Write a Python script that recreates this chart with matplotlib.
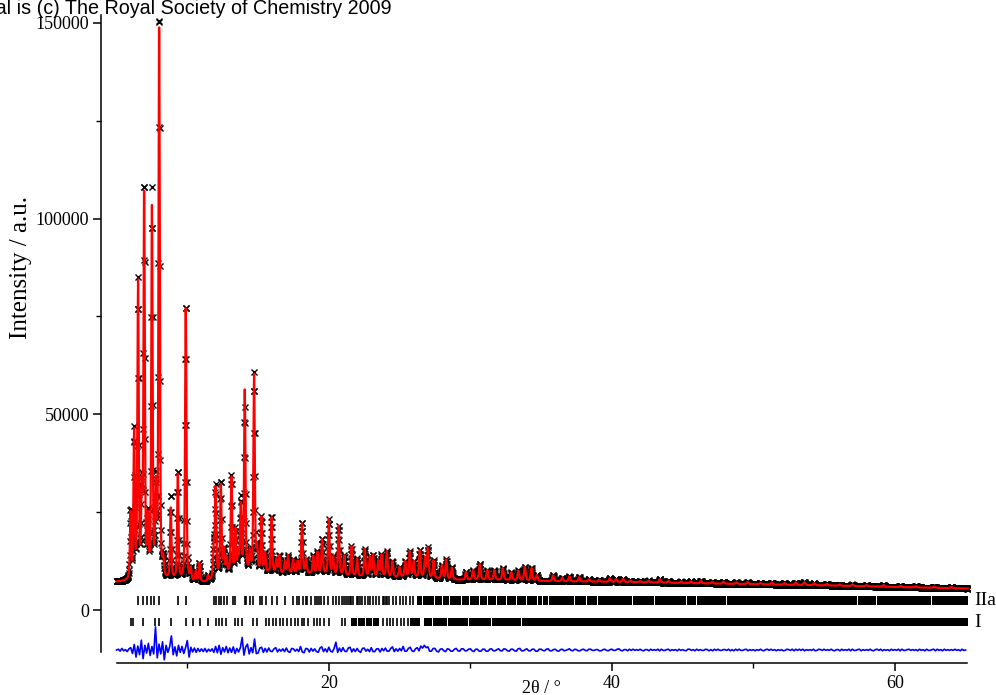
import numpy as np
import matplotlib.pyplot as plt
from matplotlib.ticker import FixedLocator, MultipleLocator

# --- background knots (2theta, counts) ---
bg_2theta = [5.0, 7.0, 9.0, 10.5, 11.5, 12.5, 15.0, 18.0, 20.0, 22.0, 26.0,
             29.0, 32.0, 35.0, 40.0, 45.0, 50.0, 55.0, 60.0, 65.2]
bg_counts = [7100, 7300, 7400, 7000, 7100, 8800, 9200, 9300, 9000, 8500, 8300,
             7700, 7700, 7400, 7200, 6900, 6600, 6300, 5900, 5500]

# --- reflections: position, calculated height, observed height (above background) ---
peak_pos = [5.99, 6.24, 6.52, 6.78, 6.95, 7.21, 7.50, 7.78, 8.01, 8.30,
            8.83, 9.33, 9.89, 10.25, 10.60, 10.85, 11.47, 11.87, 12.00, 12.37,
            12.58, 12.77, 13.12, 13.40, 13.60, 13.78, 14.06, 14.42, 14.72, 14.93,
            15.24, 15.50, 15.95, 16.30, 16.50, 16.90, 17.12, 17.48, 17.80, 18.11,
            18.40, 18.90, 19.20, 19.53, 20.00, 20.30, 20.70, 21.10, 21.60, 22.00,
            22.54, 22.90, 23.13, 23.50, 23.72, 24.10, 24.50, 25.00, 25.40, 25.72,
            26.00, 26.43, 26.80, 27.00, 27.40, 28.00, 28.30, 28.70, 29.70, 30.20,
            30.67, 31.20, 31.70, 32.30, 32.90, 33.40, 33.85, 34.33, 34.70, 35.85,
            36.50, 37.00, 37.70, 38.40, 39.10, 39.86, 40.30, 40.80, 41.30, 42.00,
            42.60, 43.40, 44.00, 44.90, 45.60, 46.30, 47.10, 47.90, 48.80, 49.60,
            50.50, 51.30, 52.20, 53.00, 53.60, 54.30, 55.20, 56.10, 57.00, 58.00,
            59.20, 60.40, 61.50, 62.80, 64.00]
calc_height = [17000, 37000, 75000, 20000, 100000, 14000, 94000, 21000, 144000, 4000,
               18500, 27500, 71500, 3000, 2500, 4800, 1500, 8000, 22500, 23500,
               6000, 4000, 24500, 11000, 5000, 17000, 46500, 5000, 50500, 6000,
               14000, 5000, 14500, 3500, 4500, 3000, 4500, 3500, 3000, 13000,
               3500, 4500, 5500, 9000, 14000, 4500, 12500, 5000, 7500, 4500,
               7000, 5000, 5500, 4000, 5500, 6500, 4000, 2500, 4000, 6500,
               4000, 7000, 5000, 7500, 4500, 3500, 5000, 3000, 2000, 2500,
               4000, 2500, 2500, 3000, 2000, 2500, 3500, 3200, 1500, 1500,
               900, 1300, 1100, 600, 500, 900, 700, 800, 400, 300,
               500, 900, 500, 400, 500, 600, 400, 500, 400, 500,
               400, 500, 400, 600, 700, 500, 400, 300, 400, 300,
               400, 300, 300, 300, 300]
obs_height = [17500, 37500, 75500, 21000, 101000, 14500, 98500, 22000, 145500, 4000,
              21500, 28000, 71500, 3000, 2500, 4800, 1500, 8000, 23000, 24000,
              6000, 4000, 25000, 11000, 5000, 19000, 42000, 5000, 51000, 6000,
              14000, 5000, 14500, 3500, 4500, 3000, 4500, 3500, 3000, 13000,
              3500, 4500, 5500, 9000, 14000, 4500, 12500, 5000, 7500, 4500,
              7000, 5000, 5500, 4000, 5500, 6500, 4000, 2500, 4000, 6500,
              4000, 7000, 5000, 7500, 4500, 3500, 5000, 3000, 2000, 2500,
              4000, 2500, 2500, 3000, 2000, 2500, 3500, 3200, 1500, 1500,
              900, 1300, 1100, 600, 500, 900, 700, 800, 400, 300,
              500, 900, 500, 400, 500, 600, 400, 500, 400, 500,
              400, 500, 400, 600, 700, 500, 400, 300, 400, 300,
              400, 300, 300, 300, 300]

# --- difference curve (obs - calc), hundreds of counts, every 0.125 deg from 5 to 65 ---
diff_hundreds = [
    0, 2, -3, 4, -2, 1, -4, 3,          # 5
    6, -9, 14, -18, 10, -12, 25, -22,   # 6
    12, -8, 17, -14, 9, -10, 59, -20,   # 7
    15, -10, 21, -25, 12, -6, 8, 36,    # 8
    -12, 8, -15, 12, -6, 9, -9, 6,      # 9
    24, -18, 7, -5, 5, -6, 4, -4,       # 10
    3, -4, 4, -5, 2, -3, 3, -6,         # 11
    9, -7, 12, -11, 6, -5, 9, -7,       # 12
    5, -6, 8, -9, 4, -5, 6, 32,         # 13
    -13, 8, 15, -10, 6, -7, 28, -9,     # 14
    -8, 5, 7, -6, 4, -5, 5, -3,         # 15
    -4, 3, 6, -5, 2, -3, 3, -4,         # 16
    5, -4, -6, 4, 3, -3, 2, -4,         # 17
    9, -5, -7, 4, 3, -5, 4, -3,         # 18
    3, -4, -6, 5, 8, -4, 3, -5,         # 19
    7, -3, -5, 4, 20, -6, 5, -4,        # 20
    6, -3, -4, 5, 7, -5, 3, -4,         # 21
    4, -3, -6, 4, 5, -3, 2, -4,         # 22
    6, -4, -4, 3, 3, -5, 4, -2,         # 23
    5, -3, -3, 4, 8, -4, 3, -3,         # 24
    4, -2, 9, -3, -3, 4, 7, -2,         # 25
    -4, 3, 6, -2, 10, 5, 12, 6,         # 26
    8, -3, -3, 4, 4, -3, -5, 2,         # 27
    3, -2, -4, 3, 2, -3, -3, 2,         # 28
    4, -2, -3, 3, 3, -2, -2, 2,         # 29
    3, -2, -4, 2, 2, -3, -3, 2,         # 30
    2, -3, -3, 2, 3, -2, -2, 1,         # 31
    3, -2, -2, 3, 2, -2, -3, 2,         # 32
    2, -2, -3, 3, 4, -2, -2, 1,         # 33
    3, -2, -2, 2, 2, -3, -3, 2,         # 34
    2, -1, -2, 2, 3, -2, -2, 1,         # 35
    2, -2, -3, 1, 2, -2, -1, 1,         # 36
    3, -1, -2, 2, 1, -2, -2, 1,         # 37
    2, -1, -2, 2, 2, -1, -1, 1,         # 38
    1, -2, -2, 1, 2, -1, -2, 1,         # 39
    2, -1, -1, 2, 3, -1, -2, 1,         # 40
    1, -2, 2, -1, 2, -1, 1, -1,         # 41
    2, -1, -2, 1, 1, -2, 2, -1,         # 42
    1, -1, 2, -2, 2, -1, -1, 1,         # 43
    2, -2, 1, -1, 1, -2, 2, -1,         # 44
    1, -1, -2, 2, 2, -1, 1, -2,         # 45
    2, -1, 1, -1, -1, 2, 1, -2,         # 46
    1, -2, 2, -1, 2, -1, -1, 1,         # 47
    1, -1, 2, -2, 1, -2, 2, -1,         # 48
    2, -1, -1, 1, 2, -2, 1, -1,         # 49
    1, -2, 1, -1, 2, -1, -2, 1,         # 50
    2, -1, 2, -1, 1, -2, 1, -1,         # 51
    1, -2, -1, 2, 1, -1, 2, -2,         # 52
    2, -1, 2, -1, 2, -2, 1, -1,         # 53
    1, -1, 2, -2, -1, 2, 1, -1,         # 54
    2, -1, 1, -1, 2, -1, -2, 1,         # 55
    1, -2, 2, -1, 1, -1, 2, -2,         # 56
    2, -1, -1, 1, 2, -2, 1, -1,         # 57
    1, -1, 2, -1, -2, 1, 2, -1,         # 58
    2, -2, 1, -1, 1, -2, 2, -1,         # 59
    1, -1, 2, -2, 2, -1, -1, 1,         # 60
    2, -1, 1, -1, 1, -2, 2, -1,         # 61
    1, -2, 2, -1, -1, 1, 2, -2,         # 62
    2, -1, 1, -2, 2, -1, 1, -1,         # 63
    1, -1, 2, -1, 1, -2, 2, -1,         # 64
    0]
diff_offset = -10200

# --- reflection markers for the two phases ---
phase_IIa_ticks = [6.52, 6.88, 7.17, 7.42, 7.67, 8.01, 9.35, 9.89, 11.87, 12.01,
                   12.25, 12.37, 12.58, 12.77, 13.24, 13.36, 14.06, 14.18, 14.42, 14.65,
                   15.12, 15.31, 15.55, 15.95, 16.35, 16.89, 17.48, 17.72, 17.90, 18.18,
                   18.37, 18.49, 18.73, 19.01, 19.17, 19.31, 19.48, 19.65, 19.95, 20.30,
                   20.54, 20.73, 20.90, 21.06, 21.25, 21.36, 21.48, 21.60, 21.72, 21.96,
                   22.07, 22.19, 22.38, 22.54, 22.78, 22.90, 23.13, 23.37, 23.55, 23.82,
                   23.92, 24.03, 24.13, 24.24, 24.54, 24.78, 25.02, 25.25, 25.49, 25.72,
                   25.96]
phase_IIa_blocks = [(26.2, 65.15)]
phase_IIa_gaps = [26.64, 27.49, 28.06, 28.55, 29.40, 29.96, 30.67, 31.24, 31.87, 32.58,
                  33.29, 33.99, 34.77, 35.12, 35.55, 37.39, 38.23, 39.01, 41.48, 43.04,
                  45.30, 46.01, 48.13, 57.39, 58.73, 62.62]
phase_I_ticks = [5.99, 6.17, 6.88, 7.70, 8.01, 8.83, 9.89, 10.41, 10.88, 11.47,
                 12.06, 12.25, 12.44, 12.72, 13.36, 13.59, 13.90, 14.61, 14.93, 15.55,
                 15.78, 16.06, 16.30, 16.54, 16.77, 17.05, 17.36, 17.60, 17.83, 18.07,
                 18.23, 18.54, 18.94, 19.13, 19.36, 19.65, 20.02, 20.90, 21.13, 23.84,
                 24.08, 24.31, 24.52, 24.81, 25.09, 25.30, 25.58]
phase_I_blocks = [(21.55, 23.55), (25.72, 26.45), (26.75, 65.15)]
phase_I_gaps = [22.05, 22.6, 23.1, 27.3, 28.4, 29.9, 31.5, 33.6]

IIa_level = 2420
I_level = -3060
tick_half = 1050


# --- build the profiles from the reflection list ---
step = 0.02
tth = np.arange(5.0, 65.15 + step / 2, step)


def profile(heights):
    y = np.interp(tth, bg_2theta, bg_counts)
    for p, h in zip(peak_pos, heights):
        w = 0.10 + 0.001 * p
        dx = (tth - p) / w
        y = y + h * (0.5 * np.exp(-4 * np.log(2) * dx ** 2) + 0.5 / (1 + 4 * dx ** 2))
    return y


y_calc = profile(calc_height)
y_obs = profile(obs_height)
diff_2theta = 5.0 + 0.125 * np.arange(len(diff_hundreds))
y_diff = diff_offset + np.array(diff_hundreds) * 100.0


def solid_segments(blocks, gaps, gap_width=0.07):
    segs = []
    for a, b in blocks:
        start = a
        for g in gaps:
            if a < g < b:
                segs.append((start, g - gap_width / 2 - start))
                start = g + gap_width / 2
        segs.append((start, b - start))
    return segs


# --- plot ---
serif = 'Liberation Serif'
fig = plt.figure(figsize=(9.96, 6.95), dpi=100)
ax = fig.add_axes([101 / 996, 32 / 695, 868.8 / 996, 648 / 695])

ax.plot(tth, y_obs, linestyle='none', marker='x', ms=4.8, mew=1.0, color='black')
ax.plot(tth, y_calc, color='#ff0000', lw=1.6)
ax.plot(diff_2theta, y_diff, color='#0000ff', lw=1.2)

ax.vlines(phase_IIa_ticks, IIa_level - tick_half, IIa_level + tick_half, color='black', lw=1.2)
ax.broken_barh(solid_segments(phase_IIa_blocks, phase_IIa_gaps),
               (IIa_level - tick_half, 2 * tick_half), facecolor='black', edgecolor='none')
ax.vlines(phase_I_ticks, I_level - tick_half, I_level + tick_half, color='black', lw=1.2)
ax.broken_barh(solid_segments(phase_I_blocks, phase_I_gaps),
               (I_level - tick_half, 2 * tick_half), facecolor='black', edgecolor='none')

ax.text(65.65, IIa_level, 'IIa', va='center', ha='left', fontsize=14, family=serif, clip_on=False)
ax.text(65.65, I_level, 'I', va='center', ha='left', fontsize=14, family=serif, clip_on=False)

ax.set_xlim(3.9, 65.3)
ax.set_ylim(-13520, 152000)

ax.spines['top'].set_visible(False)
ax.spines['right'].set_visible(False)
ax.spines['left'].set_bounds(-10700, 152000)
ax.spines['bottom'].set_bounds(5.0, 65.1)
for s in ['left', 'bottom']:
    ax.spines[s].set_linewidth(1.1)

ax.xaxis.set_major_locator(FixedLocator([20, 40, 60]))
ax.xaxis.set_minor_locator(FixedLocator([10, 30, 50]))
ax.yaxis.set_major_locator(FixedLocator([0, 50000, 100000, 150000]))
ax.yaxis.set_minor_locator(MultipleLocator(25000))
ax.tick_params(which='major', direction='out', length=5.5, width=1.1, labelsize=13, pad=3)
ax.tick_params(which='minor', direction='out', length=3.5, width=1.0)
for lab in ax.get_xticklabels() + ax.get_yticklabels():
    lab.set_family(serif)

ax.set_ylabel('Intensity / a.u.', fontsize=18, family=serif, va='center')
ax.yaxis.set_label_coords(-0.0925, 0.61)
ax.set_xlabel('2θ / °', fontsize=13, family=serif, va='center')
ax.xaxis.set_label_coords(0.5075, -0.0386)

fig.text(392 / 996, 1 - 13.5 / 695,
         'Supplementary Material (ESI) for CrystEngComm This journal is (c) The Royal Society of Chemistry 2009',
         ha='right', va='baseline', fontsize=14.2, family='Liberation Sans')

fig.savefig('out.png', dpi=100)
